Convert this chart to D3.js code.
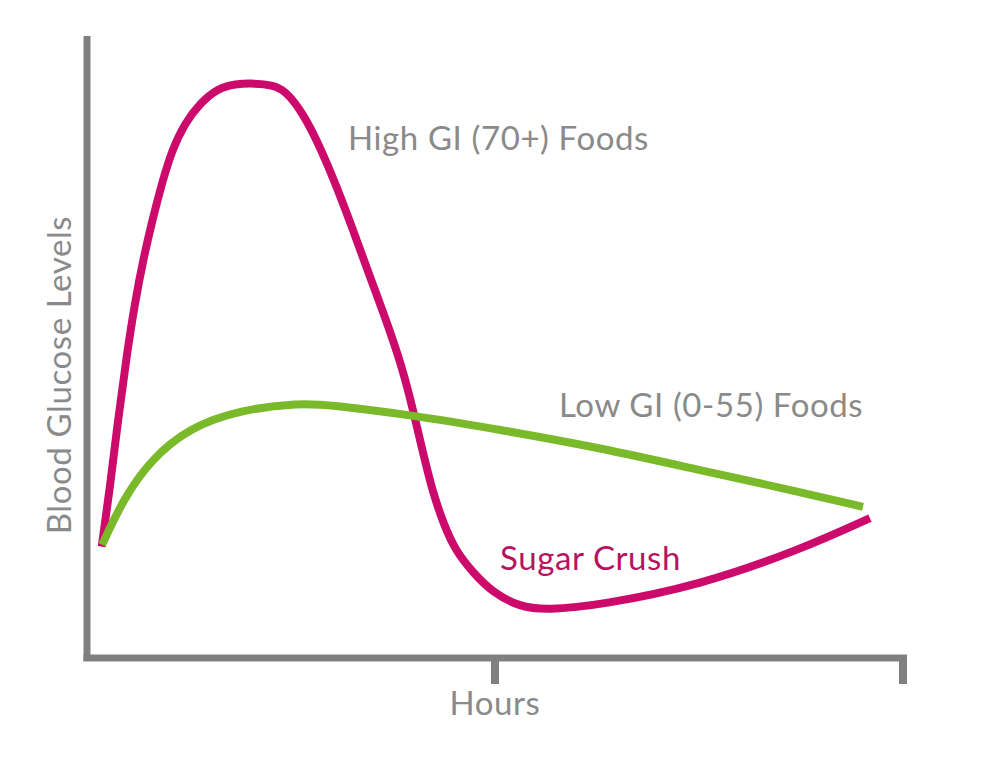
<!DOCTYPE html>
<html>
<head>
<meta charset="utf-8">
<script src="https://cdn.jsdelivr.net/npm/d3@7"></script>
<style>
    body {
        margin: 0;
        background: #fff;
    }
    svg {
        display: block;
    }
    .label {
        font-family: Lato, "Open Sans", sans-serif;
        font-size: 33px;
        letter-spacing: 0.6px;
        fill: #8a8a8a;
    }
</style>
</head>
<body>
<svg id="chart" width="1000" height="780"></svg>
<script>

    // hours since eating (x) vs. relative blood glucose (y, 0-100)
    var highHours = [0.072, 0.113, 0.152, 0.196, 0.235, 0.275, 0.324, 0.368, 0.417, 0.48, 0.554, 0.642,
                     0.725, 0.824, 0.907, 0.971, 1.059, 1.142, 1.225, 1.304, 1.387, 1.471, 1.549, 1.598,
                     1.647, 1.696, 1.75, 1.804, 1.892, 1.99, 2.123, 2.255, 2.515, 3.005, 3.495, 3.838];
    var highLevel = [17.9, 27.5, 38.3, 49.0, 57.1, 64.0, 70.9, 76.4, 81.7, 86.0, 89.2, 91.6,
                     92.3, 92.4, 92.1, 91.3, 87.6, 82.2, 75.7, 68.8, 61.3, 53.9, 46.3, 39.9,
                     33.0, 26.5, 21.4, 17.4, 13.7, 10.5, 8.2, 7.7, 8.5, 11.7, 17.4, 22.5];

    var lowHours = [0.074, 0.176, 0.309, 0.505, 0.75, 1.044, 1.19, 1.583, 2.025, 2.515, 3.005, 3.495, 3.804];
    var lowLevel = [18.2, 25.4, 31.8, 37.1, 39.9, 41.0, 40.7, 39.1, 36.7, 33.8, 30.2, 26.7, 24.3];

    var xTicks = [2, 4];

    var svg = d3.select('#chart');

    var x = d3.scaleLinear()
            .domain([0, 4])
            .range([87, 903]);

    var y = d3.scaleLinear()
            .domain([0, 100])
            .range([658, 36]);

    var line = d3.line()
            .x(function(d) { return x(d[0]); })
            .y(function(d) { return y(d[1]); })
            .curve(d3.curveBasis);

    var axisColor = '#808080';

    // y axis
    svg.append('line')
        .attr('x1', x(0)).attr('x2', x(0))
        .attr('y1', y(100)).attr('y2', y(0) + 3)
        .attr('stroke', axisColor)
        .attr('stroke-width', 7);

    // x axis
    svg.append('line')
        .attr('x1', x(0) - 3.5).attr('x2', x(4) + 4)
        .attr('y1', y(0)).attr('y2', y(0))
        .attr('stroke', axisColor)
        .attr('stroke-width', 7);

    svg.selectAll('.tick')
        .data(xTicks)
      .enter()
        .append('line')
        .attr('class', 'tick')
        .attr('x1', function(d) { return x(d); })
        .attr('x2', function(d) { return x(d); })
        .attr('y1', y(0))
        .attr('y2', y(0) + 26)
        .attr('stroke', axisColor)
        .attr('stroke-width', 8);

    // curves
    svg.append('path')
        .datum(d3.zip(highHours, highLevel))
        .attr('d', line)
        .attr('fill', 'none')
        .attr('stroke', '#cc0a6c')
        .attr('stroke-width', 8)
        .attr('stroke-linejoin', 'round');

    svg.append('path')
        .datum(d3.zip(lowHours, lowLevel))
        .attr('d', line)
        .attr('fill', 'none')
        .attr('stroke', '#7ab929')
        .attr('stroke-width', 8)
        .attr('stroke-linejoin', 'round');

    // texts
    svg.append('text')
        .attr('class', 'label')
        .attr('x', 348).attr('y', 150)
        .text('High GI (70+) Foods');

    svg.append('text')
        .attr('class', 'label')
        .attr('x', 559).attr('y', 417)
        .text('Low GI (0-55) Foods');

    svg.append('text')
        .attr('class', 'label')
        .attr('x', 500).attr('y', 570)
        .style('fill', '#b8135f')
        .text('Sugar Crush');

    svg.append('text')
        .attr('class', 'label')
        .attr('x', x(2)).attr('y', 715)
        .attr('text-anchor', 'middle')
        .text('Hours');

    svg.append('text')
        .attr('class', 'label')
        .attr('transform', 'translate(71,375) rotate(-90)')
        .attr('text-anchor', 'middle')
        .text('Blood Glucose Levels');

</script>
</body>
</html>
